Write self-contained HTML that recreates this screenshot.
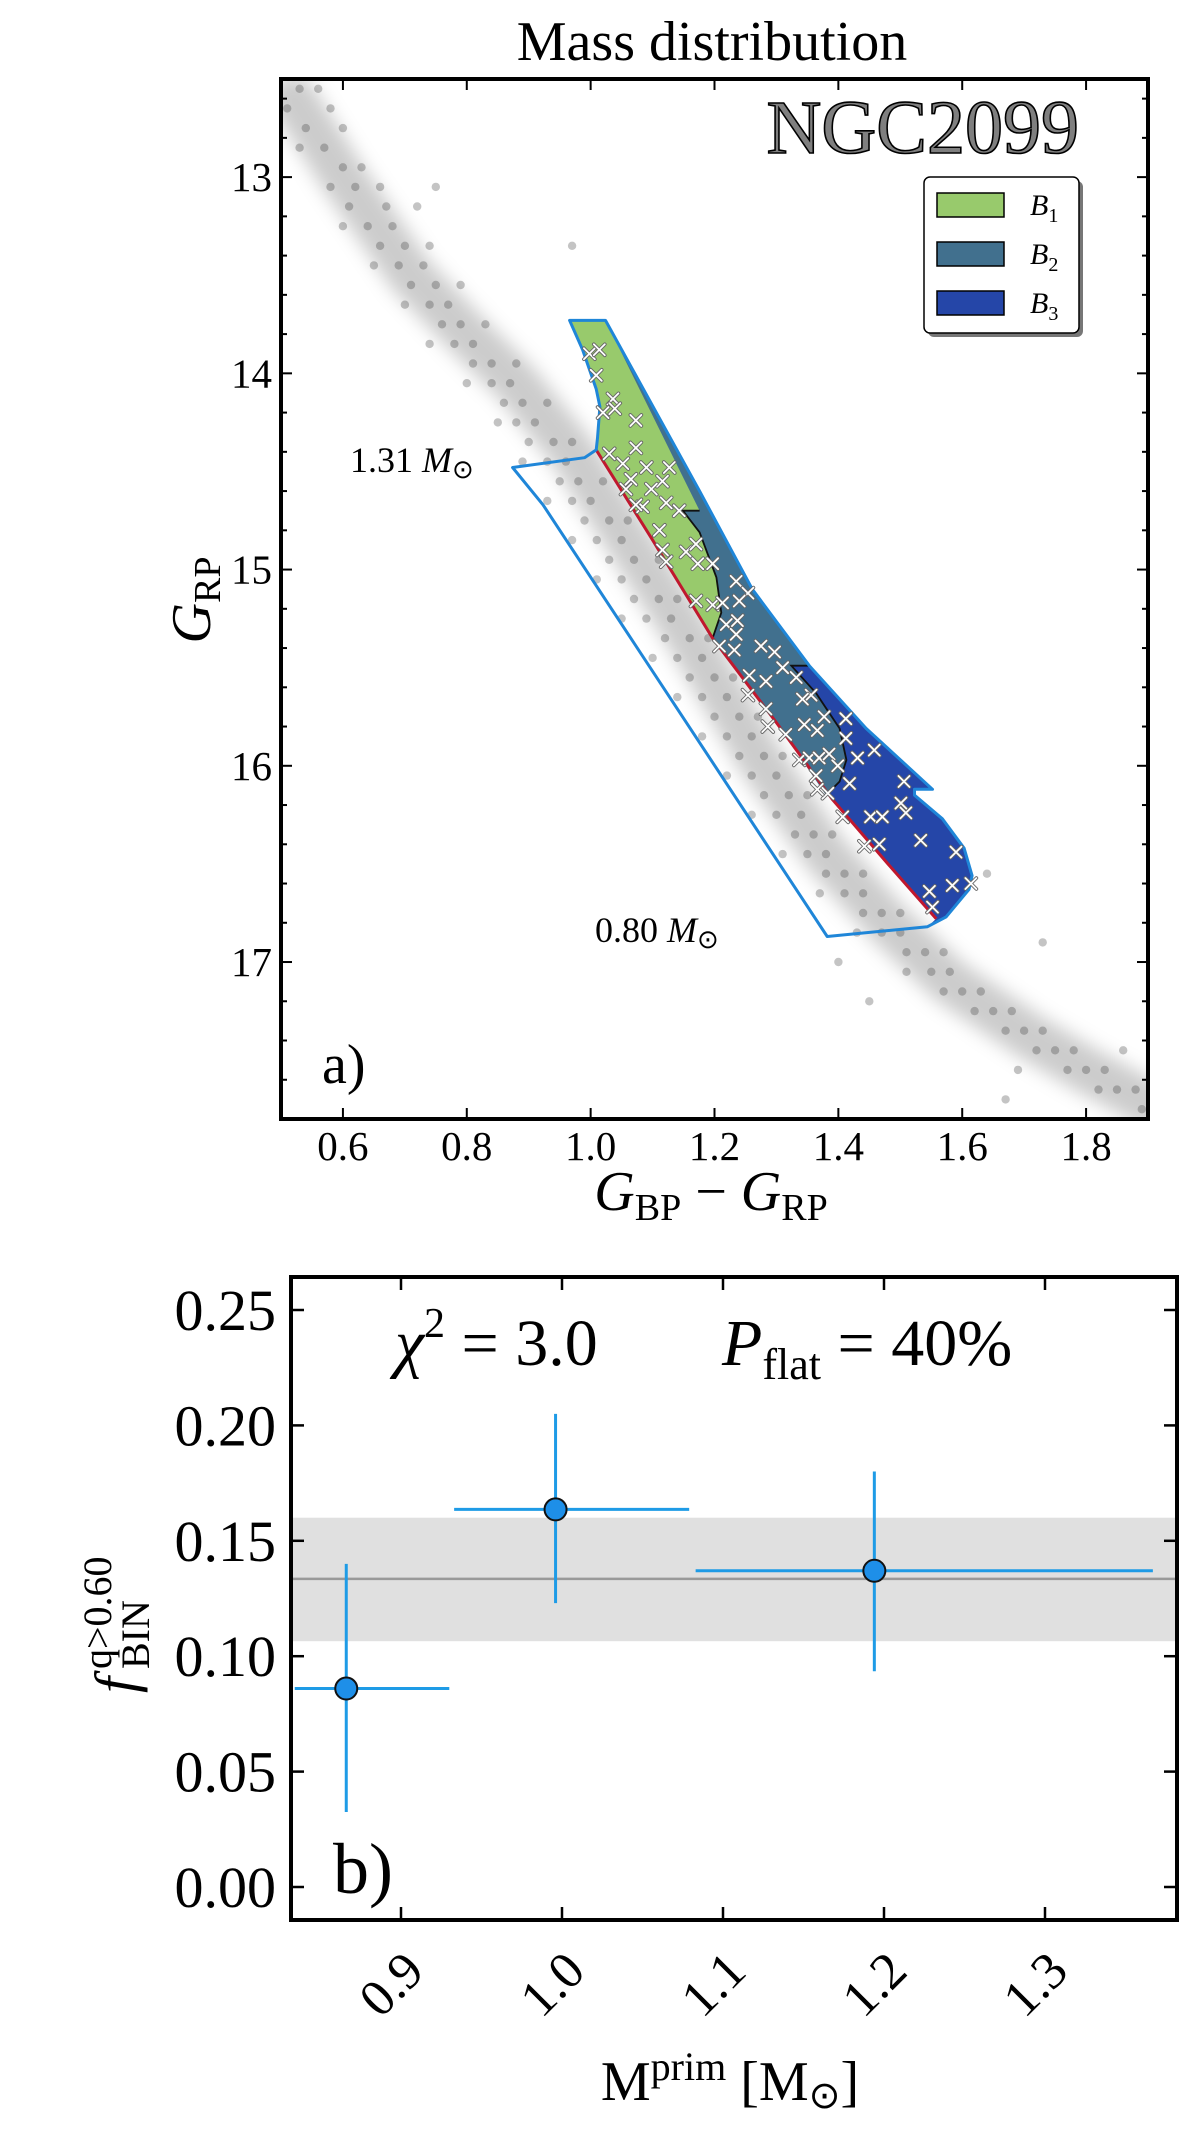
<!DOCTYPE html>
<html><head><meta charset="utf-8"><style>
html,body{margin:0;padding:0;background:#fff}
svg{display:block}
text{font-family:"Liberation Serif",serif;fill:#000}
</style></head><body>
<svg id="fig" width="1200" height="2134" viewBox="0 0 1200 2134" xmlns="http://www.w3.org/2000/svg">
<rect width="1200" height="2134" fill="#fff"/>
<g id="topPanel"></g>
<g id="botPanel"></g>
</svg>
<script>
// ---------- Panel a data ----------
const xTicksA = [0.6, 0.8, 1.0, 1.2, 1.4, 1.6, 1.8];
const xTickLabelsA = ["0.6","0.8","1.0","1.2","1.4","1.6","1.8"];
const yTicksA = [13, 14, 15, 16, 17];
const yTickLabelsA = ["13","14","15","16","17"];
const ridgeC = [0.52,0.60,0.71,0.80,0.88,0.97,1.06,1.16,1.27,1.38,1.48,1.58,1.71,1.80,1.90];
const ridgeM = [12.6,13.0,13.5,13.8,14.05,14.4,14.85,15.35,15.95,16.45,16.8,17.1,17.38,17.55,17.72];
const starC = [0.53,0.56,0.51,0.58,0.54,0.60,0.57,0.53,0.60,0.63,0.58,0.62,0.66,0.61,0.67,0.72,0.64,0.68,0.60,0.66,0.70,0.74,0.69,0.73,0.65,0.71,0.75,0.79,0.74,0.77,0.70,0.76,0.79,0.83,0.78,0.81,0.74,0.81,0.84,0.88,0.84,0.87,0.80,0.86,0.89,0.93,0.88,0.91,0.85,0.90,0.94,0.97,0.93,0.96,0.89,0.95,0.98,1.02,0.97,1.00,0.93,0.99,1.03,1.06,1.01,1.05,0.97,1.03,1.07,1.11,1.05,1.09,1.01,1.07,1.11,1.14,1.09,1.13,1.05,1.12,1.16,1.19,1.14,1.18,1.10,1.16,1.20,1.23,1.18,1.22,1.14,1.20,1.24,1.27,1.22,1.26,1.18,1.24,1.28,1.31,1.26,1.30,1.22,1.28,1.32,1.35,1.30,1.34,1.26,1.33,1.36,1.39,1.35,1.38,1.31,1.38,1.41,1.44,1.41,1.44,1.37,1.44,1.47,1.50,1.47,1.50,1.43,1.51,1.54,1.57,1.55,1.58,1.51,1.60,1.63,1.57,1.65,1.68,1.62,1.70,1.73,1.67,1.75,1.78,1.72,1.80,1.83,1.77,1.85,1.88,1.82,1.89,0.97,1.16,1.64,1.73,1.67,1.45,1.40,0.75,1.69,1.86];
const starM = [12.55,12.55,12.65,12.65,12.75,12.75,12.85,12.85,12.95,12.95,13.05,13.05,13.05,13.15,13.15,13.15,13.25,13.25,13.25,13.35,13.35,13.35,13.45,13.45,13.45,13.55,13.55,13.55,13.65,13.65,13.65,13.75,13.75,13.75,13.85,13.85,13.85,13.95,13.95,13.95,14.05,14.05,14.05,14.15,14.15,14.15,14.25,14.25,14.25,14.35,14.35,14.35,14.45,14.45,14.45,14.55,14.55,14.55,14.65,14.65,14.65,14.75,14.75,14.75,14.85,14.85,14.85,14.95,14.95,14.95,15.05,15.05,15.05,15.15,15.15,15.15,15.25,15.25,15.25,15.35,15.35,15.35,15.45,15.45,15.45,15.55,15.55,15.55,15.65,15.65,15.65,15.75,15.75,15.75,15.85,15.85,15.85,15.95,15.95,15.95,16.05,16.05,16.05,16.15,16.15,16.15,16.25,16.25,16.25,16.35,16.35,16.35,16.45,16.45,16.45,16.55,16.55,16.55,16.65,16.65,16.65,16.75,16.75,16.75,16.85,16.85,16.85,16.95,16.95,16.95,17.05,17.05,17.05,17.15,17.15,17.15,17.25,17.25,17.25,17.35,17.35,17.35,17.45,17.45,17.45,17.55,17.55,17.55,17.65,17.65,17.65,17.75,13.35,15.0,16.55,16.9,17.7,17.2,17.0,13.05,17.55,17.45];
const binC = [0.998,1.014,1.009,1.036,1.039,1.020,1.073,1.073,1.030,1.052,1.090,1.127,1.065,1.116,1.098,1.057,1.084,1.073,1.122,1.143,1.111,1.154,1.170,1.173,1.116,1.122,1.197,1.235,1.254,1.240,1.170,1.197,1.213,1.219,1.237,1.235,1.208,1.232,1.275,1.297,1.310,1.332,1.256,1.283,1.254,1.356,1.342,1.283,1.377,1.345,1.366,1.412,1.412,1.315,1.286,1.337,1.353,1.369,1.385,1.431,1.458,1.364,1.399,1.418,1.506,1.501,1.509,1.407,1.452,1.471,1.466,1.442,1.533,1.590,1.584,1.614,1.547,1.552,1.383,1.366];
const binM = [13.90,13.88,14.01,14.13,14.18,14.20,14.24,14.38,14.41,14.46,14.48,14.48,14.54,14.55,14.59,14.59,14.68,14.67,14.66,14.70,14.80,14.91,14.87,14.97,14.90,14.96,14.97,15.06,15.12,15.16,15.16,15.18,15.17,15.28,15.26,15.33,15.39,15.41,15.39,15.42,15.50,15.55,15.54,15.57,15.64,15.64,15.66,15.71,15.75,15.79,15.82,15.76,15.86,15.84,15.80,15.97,15.96,15.96,15.94,15.96,15.92,16.05,16.00,16.09,16.08,16.19,16.24,16.26,16.26,16.26,16.40,16.41,16.38,16.44,16.61,16.60,16.64,16.72,16.14,16.12];
const rightEdgeC = [1.024,1.176,1.261,1.353,1.445,1.552];
const rightEdgeM = [13.73,14.60,15.10,15.49,15.81,16.12];
const bulgeC = [1.523,1.523,1.568,1.603,1.616,1.611,1.574,1.544];
const bulgeM = [16.12,16.15,16.27,16.42,16.56,16.63,16.77,16.82];
const redC = [1.009,1.100,1.197,1.300,1.390,1.480,1.558];
const redM = [14.39,14.85,15.35,15.78,16.17,16.50,16.78];
const leftCurveC = [1.009,1.011,1.015,1.009,0.987,0.966];
const leftCurveM = [14.39,14.33,14.17,14.08,13.88,13.73];
const outerLowC = [1.382,0.923,0.874,0.990];
const outerLowM = [16.87,14.67,14.48,14.43];
const b2TopC = [1.176,1.149,1.176,1.203,1.211,1.197];
const b2TopM = [14.70,14.70,14.81,15.04,15.22,15.35];
const b3TopC = [1.353,1.324,1.364,1.402,1.413,1.402,1.380];
const b3TopM = [15.49,15.49,15.63,15.81,15.97,16.08,16.15];

// ---------- Panel b data ----------
const massVals = [0.866, 0.996, 1.194];
const fracVals = [0.086, 0.1636, 0.137];
const massLo = [0.834, 0.933, 1.083];
const massHi = [0.930, 1.079, 1.367];
const fracLo = [0.0325, 0.123, 0.0935];
const fracHi = [0.140, 0.205, 0.180];
const meanFrac = [0.1335];
const bandFrac = [0.1065, 0.160];
const xTicksB = [0.9, 1.0, 1.1, 1.2, 1.3];
const xTickLabelsB = ["0.9","1.0","1.1","1.2","1.3"];
const yTicksB = [0.00, 0.05, 0.10, 0.15, 0.20, 0.25];
const yTickLabelsB = ["0.00","0.05","0.10","0.15","0.20","0.25"];

const NS = "http://www.w3.org/2000/svg";
function mk(parent, tag, attrs, txt){const e=document.createElementNS(NS,tag);for(const k in attrs)e.setAttribute(k,attrs[k]);if(txt!==undefined)e.textContent=txt;parent.appendChild(e);return e;}

const AL=281, AR=1148, AT=79, AB=1119;
const xA = c => AL + (c-0.5)*(AR-AL)/1.4;
const yA = m => AT + (m-12.5)*(AB-AT)/5.3;
const topG = document.getElementById('topPanel');

function pts(cs, ms){return cs.map((c,i)=>xA(c).toFixed(1)+','+yA(ms[i]).toFixed(1));}

const defs = mk(topG,'defs',{});
const cp = mk(defs,'clipPath',{id:'clipA'});
mk(cp,'rect',{x:AL,y:AT,width:AR-AL,height:AB-AT});
const blur = mk(defs,'filter',{id:'blurA',x:'-20%',y:'-20%',width:'140%',height:'140%'});
mk(blur,'feGaussianBlur',{stdDeviation:'9'});

const plotA = mk(topG,'g',{'clip-path':'url(#clipA)'});



const band = mk(plotA,'polyline',{points:pts(ridgeC,ridgeM).join(' '),fill:'none',stroke:'rgba(0,0,0,0.2)','stroke-width':'46','stroke-linecap':'round','stroke-linejoin':'round',filter:'url(#blurA)'});



const starsG = mk(plotA,'g',{});


starC.forEach((c,i)=>{
  const s = mk(starsG,'circle',{cx:xA(c).toFixed(1),cy:yA(starM[i]).toFixed(1),r:4.2,fill:'rgba(60,60,60,0.3)'});
  
  
});

const outerPath = [...pts([0.966,...rightEdgeC],[13.73,...rightEdgeM]), ...pts(bulgeC,bulgeM), ...pts(outerLowC,outerLowM), ...pts(leftCurveC,leftCurveM)];
const b3Poly = [...pts([0.966,...rightEdgeC],[13.73,...rightEdgeM]), ...pts(bulgeC,bulgeM), ...pts(redC.slice().reverse(),redM.slice().reverse()), ...pts(leftCurveC,leftCurveM)];
const b2Poly = [...pts([0.966,1.024,1.176,1.261,1.353],[13.73,13.73,14.60,15.10,15.49]), ...pts(b3TopC.slice(1),b3TopM.slice(1)), ...pts([1.300,1.197,1.100,1.009],[15.78,15.35,14.85,14.39]), ...pts(leftCurveC,leftCurveM)];
const b1Poly = [...pts([0.966,1.024],[13.73,13.73]), ...pts(b2TopC,b2TopM), ...pts([1.100,1.009],[14.85,14.39]), ...pts(leftCurveC,leftCurveM)];
const r3 = mk(plotA,'polygon',{points:b3Poly.join(' '),fill:'#2546a8'});


const r2 = mk(plotA,'polygon',{points:b2Poly.join(' '),fill:'#41708e'});


const r1 = mk(plotA,'polygon',{points:b1Poly.join(' '),fill:'#98ca6c'});


const bd2 = mk(plotA,'polyline',{points:pts(b2TopC,b2TopM).join(' '),fill:'none',stroke:'#111','stroke-width':'1.8'});


const bd3 = mk(plotA,'polyline',{points:pts(b3TopC,b3TopM).join(' '),fill:'none',stroke:'#111','stroke-width':'1.8'});


const red = mk(plotA,'polyline',{points:pts(redC,redM).join(' '),fill:'none',stroke:'#c0182e','stroke-width':'3'});


const outer = mk(plotA,'polygon',{points:outerPath.join(' '),fill:'none',stroke:'#1f86d8','stroke-width':'3','stroke-linejoin':'round'});



const binG = mk(plotA,'g',{});


binC.forEach((c,i)=>{
  const x=xA(c), y=yA(binM[i]), d=5.5;
  const p = `M${x-d},${y-d}L${x+d},${y+d}M${x-d},${y+d}L${x+d},${y-d}`;
  mk(binG,'path',{d:p,stroke:'#666','stroke-width':'3.6','stroke-linecap':'round'});
  const w = mk(binG,'path',{d:p,stroke:'#fff','stroke-width':'1.8','stroke-linecap':'round'});
  
  
});

const ticksA = mk(topG,'g',{stroke:'#000','stroke-width':'2'});


xTicksA.forEach(c=>{const x=xA(c);mk(ticksA,'line',{x1:x,y1:AB,x2:x,y2:AB-11});mk(ticksA,'line',{x1:x,y1:AT,x2:x,y2:AT+11});});
for(let m=12.6;m<17.8;m+=0.2){const y=yA(m);const major=Math.abs(m-Math.round(m))<0.01;const L=major?11:6;mk(ticksA,'line',{x1:AL,y1:y,x2:AL+L,y2:y});mk(ticksA,'line',{x1:AR,y1:y,x2:AR-L,y2:y});}
xTicksA.forEach((c,i)=>{const t=mk(topG,'text',{x:xA(c),y:1160,'font-size':'41','text-anchor':'middle'},xTickLabelsA[i]);});
yTicksA.forEach((m,i)=>{const t=mk(topG,'text',{x:272,y:yA(m)+14,'font-size':'41','text-anchor':'end'},yTickLabelsA[i]);});
const frA = mk(topG,'rect',{x:AL,y:AT,width:AR-AL,height:AB-AT,fill:'none',stroke:'#000','stroke-width':'4'});



// ---------- Panel b ----------
const BL=291, BR=1177, BT=1277, BB=1920;
const xB = v => 401 + (v-0.9)*1610;
const yB = f => 1887 - f*2308;
const botG = document.getElementById('botPanel');
const bandR = mk(botG,'rect',{x:BL,y:yB(bandFrac[1]),width:BR-BL,height:yB(bandFrac[0])-yB(bandFrac[1]),fill:'#e0e0e0'});


const meanL = mk(botG,'line',{x1:BL,x2:BR,y1:yB(meanFrac[0]),y2:yB(meanFrac[0]),stroke:'#999','stroke-width':'2.5'});


massVals.forEach((v,i)=>{
  const g = mk(botG,'g',{});
  
  
  mk(g,'line',{x1:xB(massLo[i]),x2:xB(massHi[i]),y1:yB(fracVals[i]),y2:yB(fracVals[i]),stroke:'#1e9be6','stroke-width':'3'});
  mk(g,'line',{x1:xB(v),x2:xB(v),y1:yB(fracLo[i]),y2:yB(fracHi[i]),stroke:'#1e9be6','stroke-width':'3'});
  mk(g,'circle',{cx:xB(v),cy:yB(fracVals[i]),r:11,fill:'#1e8fe8',stroke:'#111','stroke-width':'2'});
});
const ticksB = mk(botG,'g',{stroke:'#000','stroke-width':'2.5'});


xTicksB.forEach(v=>{const x=xB(v);mk(ticksB,'line',{x1:x,y1:BB,x2:x,y2:BB-13});mk(ticksB,'line',{x1:x,y1:BT,x2:x,y2:BT+13});});
yTicksB.forEach(f=>{const y=yB(f);mk(ticksB,'line',{x1:BL,y1:y,x2:BL+13,y2:y});mk(ticksB,'line',{x1:BR,y1:y,x2:BR-13,y2:y});});
yTicksB.forEach((f,i)=>{const t=mk(botG,'text',{x:276,y:yB(f)+20,'font-size':'58','text-anchor':'end'},yTickLabelsB[i]);});
xTicksB.forEach((v,i)=>{const x=xB(v)-6,y=1988;const t=mk(botG,'text',{x:x,y:y,'font-size':'52','text-anchor':'middle',transform:`rotate(-45 ${x} ${y})`,'dominant-baseline':'middle'},xTickLabelsB[i]);});
const frB = mk(botG,'rect',{x:BL,y:BT,width:BR-BL,height:BB-BT,fill:'none',stroke:'#000','stroke-width':'4'});


</script>
<svg width="1200" height="2134" style="position:absolute;left:0;top:0" xmlns="http://www.w3.org/2000/svg">
<text x="712" y="60" font-size="56" text-anchor="middle">Mass distribution</text>
<text x="1079" y="153" font-size="76" text-anchor="end" style="fill:#7f7f7f;stroke:#000;stroke-width:1.6">NGC2099</text>
<g>
<rect x="928" y="181" width="155" height="156" rx="6" fill="#777"/>
<rect x="924" y="177" width="155" height="156" rx="6" fill="#fff" stroke="#000" stroke-width="1.5"/>
<rect x="937" y="193" width="67" height="24" fill="#98ca6c" stroke="#000" stroke-width="1.5"/>
<rect x="937" y="242" width="67" height="24" fill="#41708e" stroke="#000" stroke-width="1.5"/>
<rect x="937" y="291" width="67" height="24" fill="#2546a8" stroke="#000" stroke-width="1.5"/>
<text x="1030" y="215" font-size="30" font-style="italic">B<tspan font-size="20" font-style="normal" dy="7">1</tspan></text>
<text x="1030" y="264" font-size="30" font-style="italic">B<tspan font-size="20" font-style="normal" dy="7">2</tspan></text>
<text x="1030" y="313" font-size="30" font-style="italic">B<tspan font-size="20" font-style="normal" dy="7">3</tspan></text>
</g>
<text x="350" y="472" font-size="36">1.31 <tspan font-style="italic">M</tspan><tspan font-size="26" dy="6">⊙</tspan></text>
<text x="595" y="942" font-size="36">0.80 <tspan font-style="italic">M</tspan><tspan font-size="26" dy="6">⊙</tspan></text>
<text x="322" y="1083" font-size="56">a)</text>
<text x="711" y="1210" font-size="56" text-anchor="middle"><tspan font-style="italic">G</tspan><tspan font-size="38" dy="10">BP</tspan><tspan dy="-10"> − </tspan><tspan font-style="italic">G</tspan><tspan font-size="38" dy="10">RP</tspan></text>
<text x="0" y="0" font-size="56" text-anchor="middle" transform="translate(210 600) rotate(-90)"><tspan font-style="italic">G</tspan><tspan font-size="38" dy="10">RP</tspan></text>
<text x="395" y="1365" font-size="66"><tspan font-style="italic">χ</tspan><tspan font-size="42" dy="-28">2</tspan><tspan dy="28"> = 3.0</tspan></text>
<text x="722" y="1365" font-size="66"><tspan font-style="italic">P</tspan><tspan font-size="44" dy="14">flat</tspan><tspan dy="-14"> = 40%</tspan></text>
<text x="333" y="1893" font-size="72">b)</text>
<g transform="translate(135 1601) rotate(-90)">
<text x="-92" y="0" font-size="58" font-style="italic">f</text>
<text x="-68" y="-24" font-size="40">q&gt;0.60</text>
<text x="-68" y="14" font-size="40">BIN</text>
</g>
<text x="730" y="2100" font-size="56" text-anchor="middle">M<tspan font-size="40" dy="-20">prim</tspan><tspan dy="20"> [M</tspan><tspan font-size="38" dy="8">⊙</tspan><tspan dy="-8">]</tspan></text>
</svg>
</body></html>
